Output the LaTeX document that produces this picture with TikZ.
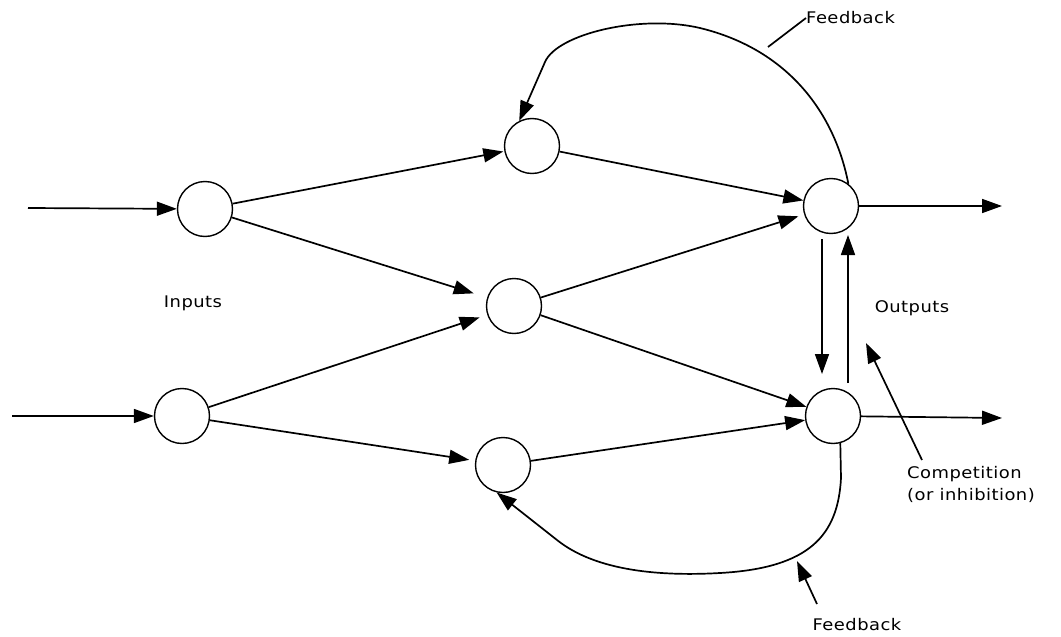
\documentclass[tikz,border=0pt]{standalone}
\usepackage{fontspec}
\setmainfont{DejaVu Sans}[FakeStretch=1.12,LetterSpace=3]
\usetikzlibrary{arrows.meta,calc}
\begin{document}
\begin{tikzpicture}[x=1pt,y=-1pt,
  neuron/.style={circle,draw,line width=1.4pt,minimum size=55pt,inner sep=0pt},
  arr/.style={line width=1.7pt,-{Triangle[length=20pt,width=14pt]}},
  plain/.style={line width=1.7pt},
  lbl/.style={font=\fontsize{16}{20}\selectfont,inner sep=0pt}]
\useasboundingbox (0,0) rectangle (1061,637);
% neurons
\node[neuron] (in1) at (205,209) {};
\node[neuron] (in2) at (182,416) {};
\node[neuron] (htop) at (532,146) {};
\node[neuron] (hmid) at (514,306) {};
\node[neuron] (hbot) at (503,465) {};
\node[neuron] (otop) at (831,206) {};
\node[neuron] (obot) at (833,416) {};
% free ends
\coordinate (s1) at (28,208);
\coordinate (s2) at (12,416);
\coordinate (e1) at (1002,206);
\coordinate (e2) at (1002,418);
% inputs
\draw[arr] (s1) -- (in1);
\draw[arr] (s2) -- (in2);
% feedforward
\draw[arr,shorten >=1pt] (in1) -- (htop);
\draw[arr,shorten >=14pt] (in1) -- (hmid);
\draw[arr,shorten >=8pt] (in2) -- (hmid);
\draw[arr,shorten >=6pt] (in2) -- (hbot);
\draw[arr] (htop) -- (otop);
\draw[arr,shorten >=6pt] (hmid) -- (otop);
\draw[arr] (hmid) -- (obot);
\draw[arr] (hbot) -- (obot);
% outputs
\draw[arr] (otop) -- (e1);
\draw[arr] (obot) -- (e2);
% competition
\coordinate (d1) at (822,239);
\coordinate (d2) at (822,374);
\coordinate (u1) at (848,383);
\coordinate (u2) at (848,235);
\draw[arr] (d1) -- (d2);
\draw[arr] (u1) -- (u2);
% feedback loops
\coordinate (ft1) at (545,62);
\draw[arr] (otop.52) .. controls (835,115) and (790,50) .. (700,28)
   .. controls (640,14) and (557,34) .. (ft1) -- (htop.117);
\coordinate (fb1) at (841,478);
\coordinate (fb2) at (557,540);
\draw[arr] (obot.-75) -- (fb1) .. controls (838,535) and (810,568) .. (720,573)
   .. controls (650,577) and (592,568) .. (fb2) -- (hbot.-103);
% labels
\node[lbl] (inputs) at (193,303) {Inputs};
\node[lbl] (outputs) at (912,308) {Outputs};
\node[lbl,anchor=west] (fbtop) at (806,18) {Feedback};
\node[lbl] (fbbot) at (857,625) {Feedback};
\node[lbl,anchor=north west,align=left] (comp) at (907,466) {Competition\\[2pt](or inhibition)};
% pointers
\coordinate (lt) at (768,47);
\draw[plain] (lt) -- (fbtop.west);
\coordinate (cp1) at (922,460);
\coordinate (cp2) at (866,343);
\draw[arr] (cp1) -- (cp2);
\coordinate (bp1) at (817,604);
\coordinate (bp2) at (797,561);
\draw[arr] (bp1) -- (bp2);
\end{tikzpicture}
\end{document}
